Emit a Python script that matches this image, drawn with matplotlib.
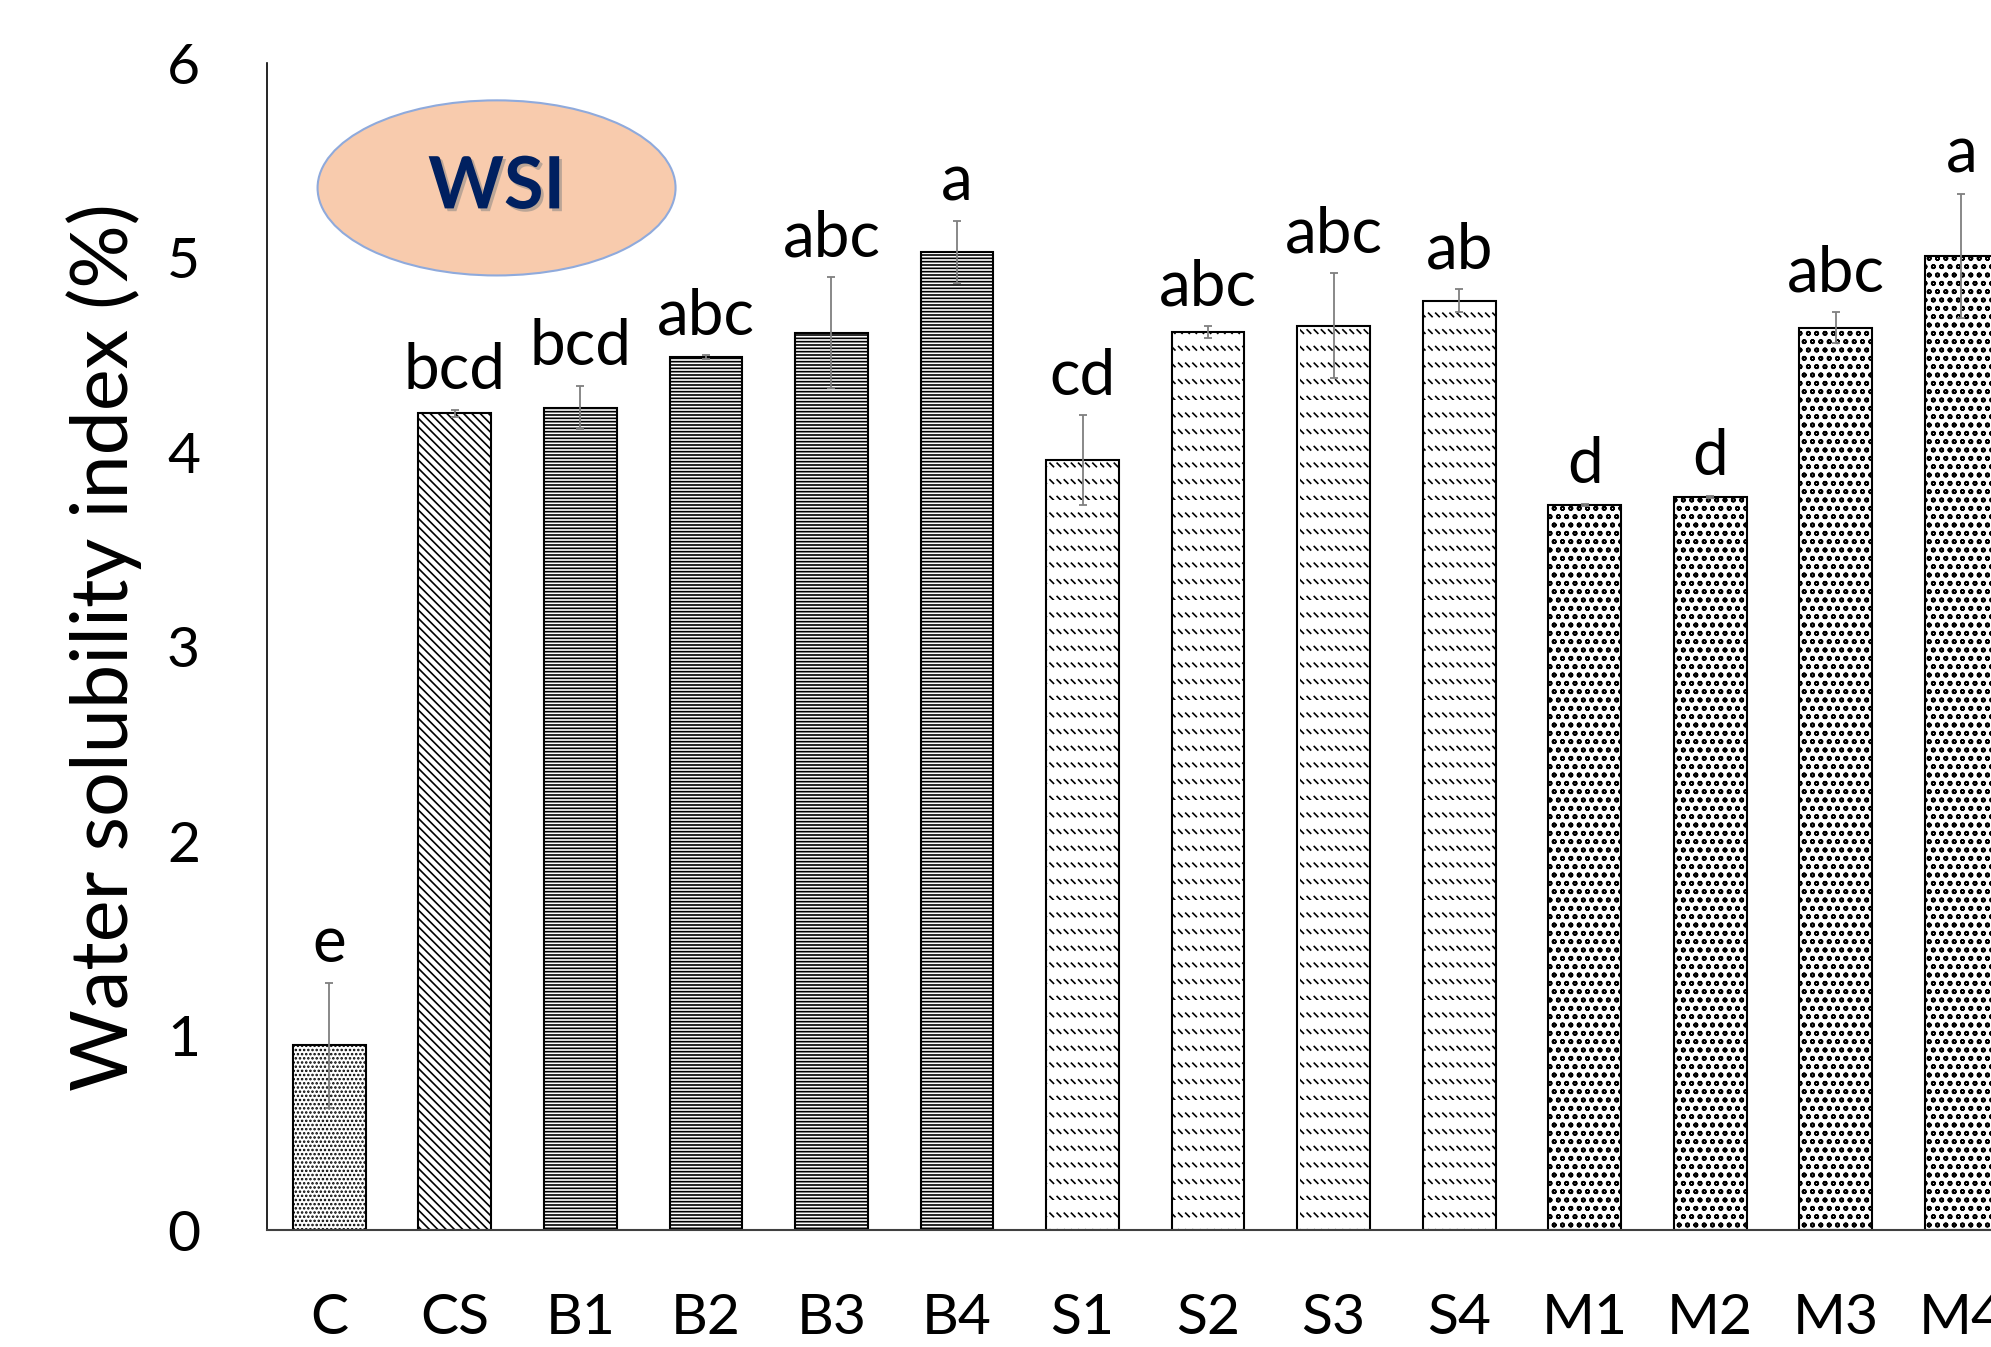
import numpy as np
import matplotlib
matplotlib.use("Agg")
import matplotlib.pyplot as plt
import matplotlib.hatch as mhatch
from matplotlib.path import Path
from matplotlib.patches import Ellipse
import matplotlib.patheffects as pe

plt.rcParams['font.family'] = ['Lato', 'DejaVu Sans']
plt.rcParams['hatch.linewidth'] = 1.2


# motif "|" : rangées de petits traits obliques (remplace les verticales)
class RowDashHatch(mhatch.HatchPatternBase):
    def __init__(self, hatch, density):
        self.rows = hatch.count('|') * density
        self.per_row = 2 * self.rows + 2
        self.num_vertices = 2 * self.rows * self.per_row

    def set_vertices_and_codes(self, vertices, codes):
        ys = np.linspace(0, 1, self.rows, endpoint=False)
        xs = np.linspace(0, 1, self.per_row, endpoint=False)
        w = 0.035
        k = 0
        for y in ys:
            for x0 in xs:
                vertices[k] = (x0, y + w)
                vertices[k + 1] = (x0 + w, y)
                codes[k] = Path.MOVETO
                codes[k + 1] = Path.LINETO
                k += 2


mhatch._hatch_types = [RowDashHatch if t is mhatch.VerticalHatch else t
                       for t in mhatch._hatch_types]

# échantillons, WSI moyen (%) et écart-type
samples = ["C", "CS", "B1", "B2", "B3", "B4", "S1", "S2", "S3", "S4", "M1", "M2", "M3", "M4"]
wsi = [0.95, 4.20, 4.23, 4.49, 4.615, 5.03, 3.96, 4.62, 4.65, 4.78, 3.73, 3.77, 4.64, 5.01]
sd = [0.32, 0.02, 0.11, 0.01, 0.285, 0.16, 0.23, 0.03, 0.27, 0.06, 0.005, 0.005, 0.08, 0.32]
letters = ["e", "bcd", "bcd", "abc", "abc", "a", "cd", "abc", "abc", "ab", "d", "d", "abc", "a"]

# motif par groupe
motifs = {"C": "....", "CS": "\\\\\\\\", "B": "-----", "S": "|", "M": "oo"}
hatches = [motifs.get(s, motifs.get(s[0])) for s in samples]

fig = plt.figure(figsize=(19.91, 13.47), dpi=100)
ax = fig.add_axes([0.1339, 0.0867, 0.8827, 0.8662])

x = np.arange(len(samples))
bars = ax.bar(x, wsi, width=0.58, color="white", edgecolor="black",
              linewidth=1.5, hatch=hatches, zorder=2)
ax.errorbar(x, wsi, yerr=sd, fmt="none", ecolor="#7f7f7f", elinewidth=1.3,
            capsize=3, capthick=1.3, zorder=3)

# lettres de significativité au-dessus des barres
for xi, v, e, lab in zip(x, wsi, sd, letters):
    ax.annotate(lab, (xi, v + e), xytext=(0, 15), textcoords="offset points",
                ha="center", va="baseline", fontsize=46)

ax.set_xlim(-0.5, len(samples) - 0.5)
ax.set_ylim(0, 6)
ax.set_yticks(range(0, 7))
ax.set_xticks(x)
ax.set_xticklabels(samples)
ax.tick_params(axis="both", length=0, labelsize=41)
ax.tick_params(axis="y", pad=48)
ax.tick_params(axis="x", pad=45)
ax.set_ylabel("Water solubility index (%)", fontsize=57, labelpad=18)

for side in ["top", "right"]:
    ax.spines[side].set_visible(False)
ax.spines["left"].set_linewidth(1.2)
ax.spines["bottom"].set_linewidth(1.5)
ax.spines["bottom"].set_color("#404040")

# étiquette WSI dans une ellipse
ell = Ellipse((0.2494, 0.8605), 0.1798, 0.130, transform=fig.transFigure,
              facecolor="#F8CBAD", edgecolor="#8FAADC", linewidth=1.5, zorder=5)
fig.add_artist(ell)
fig.text(0.2494, 0.8605, "WSI", ha="center", va="center", fontsize=52,
         fontweight="bold", color="#002060", zorder=6,
         path_effects=[pe.withSimplePatchShadow(offset=(2, -2), shadow_rgbFace="#808080", alpha=0.5)])

fig.savefig("out.png", dpi=100)
